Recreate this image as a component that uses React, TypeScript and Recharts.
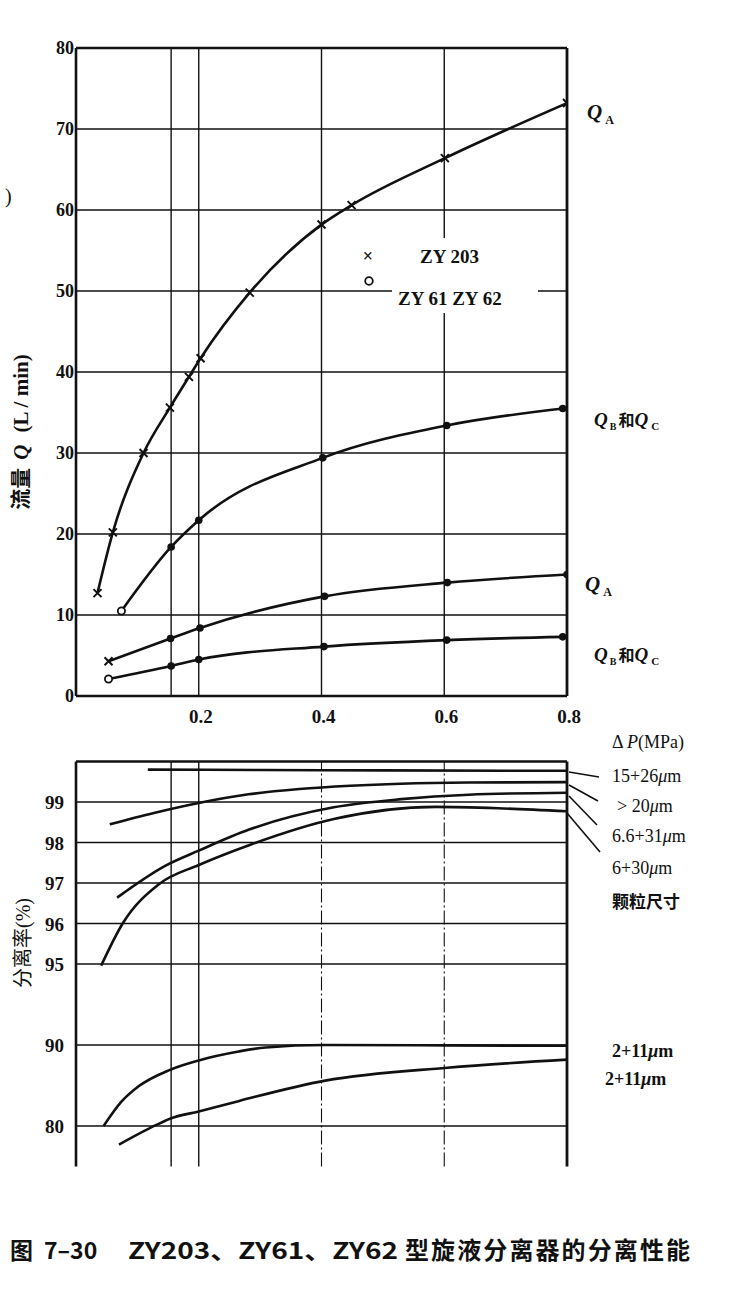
import React from 'react';
import { LineChart, Line, XAxis, YAxis, ReferenceLine } from 'recharts';

// ---------- shared x axis (ΔP, MPa) ----------
const xTicks = [0.2, 0.4, 0.6, 0.8];
const xGrid = [0.155, 0.2, 0.4, 0.6];

// ---------- top chart: flow Q (L/min) ----------
const flowTicks = [0, 10, 20, 30, 40, 50, 60, 70, 80];

// ZY203  Q_A
const qaZy203X = [0.035, 0.06, 0.11, 0.153, 0.184, 0.203, 0.283, 0.4, 0.449, 0.601, 0.8];
const qaZy203Y = [12.7, 20.2, 30.0, 35.6, 39.4, 41.7, 49.8, 58.2, 60.6, 66.4, 73.2];
// ZY203  Q_B和Q_C
const qbcZy203X = [0.074, 0.155, 0.2, 0.402, 0.604, 0.793];
const qbcZy203Y = [10.5, 18.4, 21.7, 29.4, 33.4, 35.5];
// ZY61/ZY62  Q_A
const qaZy61X = [0.053, 0.154, 0.202, 0.405, 0.605, 0.8];
const qaZy61Y = [4.3, 7.1, 8.4, 12.3, 14.0, 15.0];
// ZY61/ZY62  Q_B和Q_C
const qbcZy61X = [0.053, 0.155, 0.2, 0.404, 0.604, 0.793];
const qbcZy61Y = [2.1, 3.7, 4.5, 6.1, 6.9, 7.3];

// ---------- bottom chart: separation rate (%) ----------
const sepTicks = [80, 90, 95, 96, 97, 98, 99];
// the printed axis is non-uniform: breakpoints of its scale
const sepScaleValues = [75, 80, 90, 95, 96, 97, 98, 99, 100];
const sepScaleRanks = [-1, 0, 2, 4, 5, 6, 7, 8, 9];

const s15X = [0.117, 0.3, 0.5, 0.8];
const s15Y = [99.8, 99.79, 99.78, 99.77];
const s20X = [0.055, 0.127, 0.198, 0.281, 0.364, 0.447, 0.529, 0.64, 0.8];
const s20Y = [98.45, 98.73, 98.97, 99.19, 99.32, 99.4, 99.45, 99.48, 99.49];
const s66X = [0.067, 0.146, 0.2, 0.282, 0.42, 0.53, 0.64, 0.8];
const s66Y = [96.64, 97.43, 97.8, 98.32, 98.87, 99.07, 99.18, 99.23];
const s6X = [0.041, 0.076, 0.135, 0.201, 0.283, 0.42, 0.586, 0.696, 0.8];
const s6Y = [94.9, 96.0, 96.97, 97.45, 97.94, 98.58, 98.88, 98.84, 98.77];
const s2aX = [0.045, 0.074, 0.102, 0.152, 0.2, 0.265, 0.309, 0.405, 0.605, 0.8];
const s2aY = [80.0, 83.0, 84.9, 86.9, 88.1, 89.2, 89.7, 90.0, 89.95, 89.9];
const s2bX = [0.07, 0.13, 0.153, 0.2, 0.266, 0.406, 0.605, 0.8];
const s2bY = [77.7, 80.1, 80.9, 81.8, 83.1, 85.6, 87.2, 88.2];

function toRank(v: number): number {
  const vs = sepScaleValues;
  const rs = sepScaleRanks;
  if (v <= vs[0]) return rs[0];
  for (let i = 1; i < vs.length; i++) {
    if (v <= vs[i]) {
      const t = (v - vs[i - 1]) / (vs[i] - vs[i - 1]);
      return rs[i - 1] + t * (rs[i] - rs[i - 1]);
    }
  }
  return rs[rs.length - 1];
}

const pts = (xs: number[], ys: number[]) => xs.map((x, i) => ({ x, y: ys[i] }));
const rankPts = (xs: number[], ys: number[]) => xs.map((x, i) => ({ x, y: toRank(ys[i]) }));

const SERIF = "'Liberation Serif', 'DejaVu Serif', serif";
const CJK = "'Noto Sans CJK SC', sans-serif";
const INK = '#111';

// ---------- markers ----------
const cross = (cx: number, cy: number, key: string) => (
  <path key={key} d={`M${cx - 4},${cy - 4}L${cx + 4},${cy + 4}M${cx - 4},${cy + 4}L${cx + 4},${cy - 4}`} stroke={INK} strokeWidth={2} fill="none" />
);
const makeDot = (first: 'cross' | 'open' | 'all-cross') => (props: any) => {
  const { cx, cy, index } = props;
  const key = `d-${first}-${index}`;
  if (cx == null || cy == null) return <g key={key} />;
  if (first === 'all-cross') return cross(cx, cy, key);
  if (index === 0) {
    if (first === 'cross') return cross(cx, cy, key);
    return <circle key={key} cx={cx} cy={cy} r={3.6} fill="#fff" stroke={INK} strokeWidth={1.8} />;
  }
  return <circle key={key} cx={cx} cy={cy} r={3.8} fill={INK} stroke="none" />;
};

// ---------- ticks ----------
const TopYTick = (props: any) => (
  <text x={74} y={props.y + 6} textAnchor="end" fontFamily={SERIF} fontWeight="bold" fontSize={18} fill={INK}>
    {props.payload.value}
  </text>
);
const TopXTick = (props: any) => (
  <text x={props.x + 2} y={723} textAnchor="middle" fontFamily={SERIF} fontWeight="bold" fontSize={19} fill={INK}>
    {Number(props.payload.value).toFixed(1)}
  </text>
);
const BottomYTick = (props: any) => {
  const r = props.payload.value;
  const idx = sepTicks.findIndex((v) => Math.abs(toRank(v) - r) < 1e-6);
  return (
    <text x={64} y={props.y + 7} textAnchor="end" fontFamily={SERIF} fontWeight="bold" fontSize={19} fill={INK}>
      {idx >= 0 ? sepTicks[idx] : ''}
    </text>
  );
};

const lineCommon = {
  type: 'monotone' as const,
  dataKey: 'y',
  stroke: INK,
  strokeWidth: 2.6,
  isAnimationActive: false,
};

function TopChart() {
  return (
    <LineChart width={729} height={740} margin={{ top: 48, right: 162, bottom: 0, left: 0 }}>
      <XAxis type="number" dataKey="x" domain={[0, 0.8]} ticks={xTicks} interval={0} axisLine={false} tickLine={false} height={44} tick={TopXTick} allowDataOverflow />
      <YAxis type="number" dataKey="y" domain={[0, 80]} ticks={flowTicks} interval={0} axisLine={false} tickLine={false} width={76} tick={TopYTick} allowDataOverflow />
      {flowTicks.slice(1, -1).map((v) => (
        <ReferenceLine key={`hy${v}`} y={v} stroke={INK} strokeWidth={1.7} />
      ))}
      {xGrid.map((v) => (
        <ReferenceLine key={`vx${v}`} x={v} stroke={INK} strokeWidth={1.4} />
      ))}
      <ReferenceLine y={80} stroke={INK} strokeWidth={2.6} />
      <ReferenceLine y={0} stroke={INK} strokeWidth={2.6} />
      <ReferenceLine x={0} stroke={INK} strokeWidth={2.6} />
      <ReferenceLine x={0.8} stroke={INK} strokeWidth={2.8} />
      <Line {...lineCommon} name="ZY203 QA" data={pts(qaZy203X, qaZy203Y)} dot={makeDot('all-cross')} />
      <Line {...lineCommon} name="ZY203 QBC" data={pts(qbcZy203X, qbcZy203Y)} dot={makeDot('open')} />
      <Line {...lineCommon} name="ZY61 QA" data={pts(qaZy61X, qaZy61Y)} dot={makeDot('cross')} />
      <Line {...lineCommon} name="ZY61 QBC" data={pts(qbcZy61X, qbcZy61Y)} dot={makeDot('open')} />
    </LineChart>
  );
}

function BottomChart() {
  const rankTicks = sepTicks.map(toRank);
  return (
    <LineChart width={729} height={440} margin={{ top: 21.5, right: 162, bottom: 13.5, left: 0 }}>
      <XAxis type="number" dataKey="x" domain={[0, 0.8]} ticks={xTicks} axisLine={false} tickLine={false} height={0} tick={false} allowDataOverflow />
      <YAxis type="number" dataKey="y" domain={[-1, 9]} ticks={rankTicks} interval={0} axisLine={false} tickLine={false} width={76} tick={BottomYTick} allowDataOverflow />
      {rankTicks.map((r) => (
        <ReferenceLine key={`hr${r}`} y={r} stroke={INK} strokeWidth={1.7} />
      ))}
      <ReferenceLine x={0.155} stroke={INK} strokeWidth={1.4} />
      <ReferenceLine x={0.2} stroke={INK} strokeWidth={1.4} />
      <ReferenceLine x={0.4} stroke={INK} strokeWidth={1.1} strokeDasharray="14 3 2 3" />
      <ReferenceLine x={0.6} stroke={INK} strokeWidth={1.1} strokeDasharray="14 3 2 3" />
      <ReferenceLine y={9} stroke={INK} strokeWidth={2.6} />
      <ReferenceLine x={0} stroke={INK} strokeWidth={2.6} />
      <ReferenceLine x={0.8} stroke={INK} strokeWidth={2.8} />
      <Line {...lineCommon} name="15+26" data={rankPts(s15X, s15Y)} dot={false} />
      <Line {...lineCommon} name=">20" data={rankPts(s20X, s20Y)} dot={false} />
      <Line {...lineCommon} name="6.6+31" data={rankPts(s66X, s66Y)} dot={false} />
      <Line {...lineCommon} name="6+30" data={rankPts(s6X, s6Y)} dot={false} />
      <Line {...lineCommon} name="2+11a" data={rankPts(s2aX, s2aY)} dot={false} />
      <Line {...lineCommon} name="2+11b" data={rankPts(s2bX, s2bY)} dot={false} />
    </LineChart>
  );
}

const QLabel = ({ x, y, sub }: { x: number; y: number; sub: string }) => (
  <text x={x} y={y} fontFamily={SERIF} fontWeight="bold" fontSize={21} fill={INK}>
    <tspan fontStyle="italic">Q</tspan>
    <tspan dx={3} dy={5} fontSize={12}>{sub}</tspan>
  </text>
);
const QBCLabel = ({ x, y }: { x: number; y: number }) => (
  <text x={x} y={y} fontFamily={SERIF} fontWeight="bold" fontSize={19} fill={INK}>
    <tspan fontStyle="italic">Q</tspan>
    <tspan dx={2} dy={4} fontSize={10}>B</tspan>
    <tspan dx={2} dy={-4} fontFamily={CJK} fontSize={16}>和</tspan>
    <tspan fontStyle="italic">Q</tspan>
    <tspan dx={3} dy={4} fontSize={11}>C</tspan>
  </text>
);

function Overlay() {
  const serifText = { fontFamily: SERIF, fill: INK, fontSize: 18 };
  return (
    <svg width={729} height={1305} style={{ position: 'absolute', left: 0, top: 0, pointerEvents: 'none' }}>
      <text x={5} y={203} {...serifText} fontSize={20}>)</text>
      {/* top y title */}
      <text transform="translate(28,432) rotate(-90)" textAnchor="middle" fill={INK} fontSize={21} fontWeight="bold">
        <tspan fontFamily={CJK} fontSize={21}>流量</tspan>
        <tspan fontFamily={SERIF} fontStyle="italic" dx={8}>Q</tspan>
        <tspan fontFamily={SERIF} dx={12}>(L / min)</tspan>
      </text>
      {/* legend */}
      <rect x={392} y={238} width={146} height={75} fill="#fff" />
      <text x={368} y={262} textAnchor="middle" fontFamily={SERIF} fontWeight="bold" fontSize={18} fill={INK}>×</text>
      <circle cx={369} cy={281} r={3.8} fill="#fff" stroke={INK} strokeWidth={1.8} />
      <text x={420} y={263} {...serifText} fontWeight="bold" fontSize={19}>ZY 203</text>
      <text x={398} y={305} {...serifText} fontWeight="bold" fontSize={19}>ZY 61  ZY 62</text>
      {/* right labels top */}
      <QLabel x={587} y={119} sub="A" />
      <QBCLabel x={594} y={426} />
      <QLabel x={585} y={591} sub="A" />
      <QBCLabel x={594} y={661} />
      {/* bottom y title */}
      <text transform="translate(30,943) rotate(-90)" textAnchor="middle" fill={INK} fontSize={20}>
        <tspan fontFamily={CJK}>分离率</tspan>
        <tspan fontFamily={SERIF}>(%)</tspan>
      </text>
      {/* bottom right labels */}
      <text x={612} y={748} {...serifText}>
        Δ <tspan fontStyle="italic">P</tspan>(MPa)
      </text>
      <text x={612} y={782} {...serifText}>15+26<tspan fontStyle="italic">μ</tspan>m</text>
      <text x={617} y={812} {...serifText}>&gt; 20<tspan fontStyle="italic">μ</tspan>m</text>
      <text x={612} y={842} {...serifText}>6.6+31<tspan fontStyle="italic">μ</tspan>m</text>
      <text x={612} y={874} {...serifText}>6+30<tspan fontStyle="italic">μ</tspan>m</text>
      <text x={612} y={908} fontFamily={CJK} fontWeight="bold" fontSize={17} fill={INK}>颗粒尺寸</text>
      <text x={612} y={1057} {...serifText} fontWeight="bold">2+11<tspan fontStyle="italic">μ</tspan>m</text>
      <text x={605} y={1085} {...serifText} fontWeight="bold">2+11<tspan fontStyle="italic">μ</tspan>m</text>
      <g stroke={INK} strokeWidth={1.6}>
        <line x1={569} y1={772} x2={599} y2={777} />
        <line x1={569} y1={785} x2={598} y2={801} />
        <line x1={569} y1={796} x2={597} y2={825} />
        <line x1={567} y1={813} x2={600} y2={852} />
      </g>
      {/* caption */}
      <text x={10} y={1259} fontFamily={CJK} fontWeight="bold" fontSize={23} fill={INK}>图</text>
      <text x={44} y={1259} fontFamily={CJK} fontWeight="bold" fontSize={23} fill={INK}>7–30</text>
      <text x={128} y={1259} fontFamily={CJK} fontWeight="bold" fontSize={23} fill={INK} textLength={270} lengthAdjust="spacingAndGlyphs">ZY203、ZY61、ZY62</text>
      <text x={405} y={1259} fontFamily={CJK} fontWeight="bold" fontSize={24} fill={INK} textLength={285} lengthAdjust="spacing">型旋液分离器的分离性能</text>
    </svg>
  );
}

export default function App() {
  return (
    <div style={{ position: 'absolute', left: 0, top: 0, width: 729, height: 1305, background: '#fff' }}>
      <div style={{ position: 'absolute', left: 0, top: 0 }}>
        <TopChart />
      </div>
      <div style={{ position: 'absolute', left: 0, top: 740 }}>
        <BottomChart />
      </div>
      <Overlay />
    </div>
  );
}
